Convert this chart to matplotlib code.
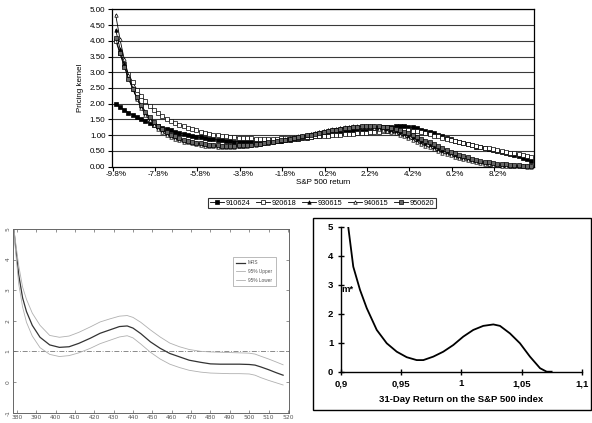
import matplotlib
matplotlib.use("Agg")
import matplotlib.pyplot as plt
from matplotlib.patches import Rectangle
import numpy as np

plt.rcParams['font.family'] = ['Liberation Sans', 'DejaVu Sans']

# ---------------- top panel data ----------------
returns = [-9.8, -9.6, -9.4, -9.2, -9.0, -8.8, -8.6, -8.4, -8.2, -8.0,
           -7.8, -7.6, -7.4, -7.2, -7.0, -6.8, -6.6, -6.4, -6.2, -6.0,
           -5.8, -5.6, -5.4, -5.2, -5.0, -4.8, -4.6, -4.4, -4.2, -4.0,
           -3.8, -3.6, -3.4, -3.2, -3.0, -2.8, -2.6, -2.4, -2.2, -2.0,
           -1.8, -1.6, -1.4, -1.2, -1.0, -0.8, -0.6, -0.4, -0.2, 0.0,
           0.2, 0.4, 0.6, 0.8, 1.0, 1.2, 1.4, 1.6, 1.8, 2.0,
           2.2, 2.4, 2.6, 2.8, 3.0, 3.2, 3.4, 3.6, 3.8, 4.0,
           4.2, 4.4, 4.6, 4.8, 5.0, 5.2, 5.4, 5.6, 5.8, 6.0,
           6.2, 6.4, 6.6, 6.8, 7.0, 7.2, 7.4, 7.6, 7.8, 8.0,
           8.2, 8.4, 8.6, 8.8, 9.0, 9.2, 9.4, 9.6, 9.8]

k_910624 = [2.00, 1.90, 1.81, 1.72, 1.64, 1.57, 1.50, 1.44, 1.38, 1.33,
            1.28, 1.23, 1.19, 1.15, 1.11, 1.07, 1.04, 1.01, 0.98, 0.95,
            0.93, 0.91, 0.89, 0.87, 0.85, 0.84, 0.82, 0.81, 0.80, 0.80,
            0.79, 0.79, 0.79, 0.79, 0.79, 0.80, 0.80, 0.81, 0.82, 0.83,
            0.84, 0.86, 0.87, 0.89, 0.90, 0.92, 0.94, 0.96, 0.98, 1.00,
            1.02, 1.04, 1.06, 1.08, 1.10, 1.12, 1.14, 1.16, 1.18, 1.19,
            1.21, 1.22, 1.24, 1.25, 1.26, 1.27, 1.28, 1.28, 1.28, 1.27,
            1.25, 1.22, 1.18, 1.14, 1.10, 1.06, 1.01, 0.96, 0.92, 0.87,
            0.83, 0.79, 0.75, 0.71, 0.68, 0.64, 0.61, 0.58, 0.55, 0.52,
            0.49, 0.46, 0.43, 0.40, 0.37, 0.33, 0.29, 0.24, 0.17]

k_920618 = [4.00, 3.60, 3.25, 2.95, 2.68, 2.45, 2.25, 2.08, 1.93, 1.80,
            1.69, 1.60, 1.52, 1.45, 1.39, 1.33, 1.28, 1.23, 1.19, 1.15,
            1.11, 1.08, 1.05, 1.02, 1.00, 0.98, 0.96, 0.94, 0.93, 0.92,
            0.91, 0.90, 0.90, 0.89, 0.89, 0.89, 0.89, 0.89, 0.89, 0.90,
            0.90, 0.91, 0.91, 0.92, 0.93, 0.94, 0.95, 0.96, 0.97, 0.98,
            0.99, 1.00, 1.01, 1.02, 1.03, 1.04, 1.05, 1.06, 1.07, 1.08,
            1.09, 1.10, 1.11, 1.12, 1.13, 1.14, 1.15, 1.16, 1.16, 1.16,
            1.14, 1.12, 1.09, 1.06, 1.03, 0.99, 0.96, 0.92, 0.89, 0.85,
            0.82, 0.78, 0.75, 0.72, 0.69, 0.66, 0.63, 0.60, 0.58, 0.55,
            0.53, 0.50, 0.48, 0.45, 0.43, 0.40, 0.38, 0.35, 0.32]

k_930615 = [4.35, 3.75, 3.25, 2.83, 2.47, 2.17, 1.92, 1.71, 1.53, 1.38,
            1.26, 1.16, 1.07, 1.00, 0.94, 0.89, 0.85, 0.81, 0.78, 0.75,
            0.73, 0.71, 0.69, 0.68, 0.67, 0.66, 0.66, 0.66, 0.66, 0.66,
            0.67, 0.68, 0.69, 0.71, 0.72, 0.74, 0.76, 0.78, 0.81, 0.83,
            0.86, 0.88, 0.91, 0.94, 0.97, 1.00, 1.03, 1.06, 1.09, 1.12,
            1.15, 1.17, 1.20, 1.22, 1.24, 1.26, 1.28, 1.29, 1.30, 1.30,
            1.30, 1.29, 1.27, 1.25, 1.22, 1.18, 1.14, 1.09, 1.04, 0.99,
            0.93, 0.87, 0.81, 0.75, 0.69, 0.63, 0.57, 0.52, 0.47, 0.42,
            0.37, 0.32, 0.28, 0.24, 0.20, 0.17, 0.14, 0.12, 0.10, 0.08,
            0.06, 0.05, 0.04, 0.03, 0.02, 0.02, 0.01, 0.01, 0.01]

k_940615 = [4.82, 4.05, 3.42, 2.91, 2.50, 2.16, 1.88, 1.65, 1.47, 1.32,
            1.20, 1.10, 1.02, 0.95, 0.89, 0.84, 0.80, 0.77, 0.74, 0.71,
            0.69, 0.67, 0.66, 0.65, 0.64, 0.64, 0.64, 0.64, 0.64, 0.65,
            0.66, 0.67, 0.68, 0.70, 0.72, 0.74, 0.76, 0.79, 0.81, 0.84,
            0.87, 0.90, 0.93, 0.96, 0.99, 1.02, 1.05, 1.08, 1.11, 1.14,
            1.16, 1.19, 1.21, 1.23, 1.25, 1.26, 1.27, 1.27, 1.27, 1.26,
            1.25, 1.23, 1.21, 1.18, 1.14, 1.10, 1.06, 1.01, 0.96, 0.91,
            0.85, 0.79, 0.73, 0.67, 0.61, 0.56, 0.50, 0.45, 0.40, 0.36,
            0.31, 0.27, 0.23, 0.20, 0.17, 0.14, 0.11, 0.09, 0.07, 0.06,
            0.04, 0.03, 0.03, 0.02, 0.01, 0.01, 0.01, 0.00, 0.00]

k_950620 = [4.10, 3.60, 3.17, 2.80, 2.48, 2.20, 1.96, 1.75, 1.57, 1.42,
            1.30, 1.19, 1.10, 1.02, 0.96, 0.90, 0.86, 0.82, 0.79, 0.76,
            0.74, 0.72, 0.70, 0.69, 0.68, 0.67, 0.67, 0.67, 0.67, 0.68,
            0.68, 0.69, 0.70, 0.72, 0.73, 0.75, 0.77, 0.79, 0.81, 0.84,
            0.86, 0.89, 0.91, 0.94, 0.97, 1.00, 1.02, 1.05, 1.08, 1.11,
            1.13, 1.16, 1.18, 1.20, 1.22, 1.24, 1.26, 1.27, 1.28, 1.29,
            1.29, 1.29, 1.28, 1.27, 1.25, 1.22, 1.19, 1.15, 1.11, 1.06,
            1.01, 0.95, 0.89, 0.83, 0.77, 0.71, 0.65, 0.59, 0.54, 0.48,
            0.43, 0.38, 0.34, 0.30, 0.26, 0.22, 0.19, 0.16, 0.14, 0.12,
            0.10, 0.08, 0.07, 0.06, 0.05, 0.04, 0.03, 0.03, 0.02]

top_series_names = ['910624', '920618', '930615', '940615', '950620']
top_xtick_labels = ['-9.8%', '-7.8%', '-5.8%', '-3.8%', '-1.8%',
                    '0.2%', '2.2%', '4.2%', '6.2%', '8.2%']
top_xtick_values = [-9.8, -7.8, -5.8, -3.8, -1.8, 0.2, 2.2, 4.2, 6.2, 8.2]
top_yticks = [0.0, 0.5, 1.0, 1.5, 2.0, 2.5, 3.0, 3.5, 4.0, 4.5, 5.0]

# ---------------- bottom-left panel data ----------------
bl_x = [378.5, 381, 383, 385, 388, 392, 397, 402, 407, 412, 418, 423, 428,
        433, 437, 440, 444, 449, 454, 459, 464, 469, 475, 480, 485, 490,
        495, 500, 503, 506, 510, 514, 517.5]
bl_mrs = [4.95, 3.50, 2.75, 2.30, 1.85, 1.46, 1.21, 1.13, 1.15, 1.26, 1.43,
          1.59, 1.70, 1.81, 1.83, 1.76, 1.58, 1.31, 1.10, 0.93, 0.82, 0.71,
          0.64, 0.59, 0.58, 0.58, 0.58, 0.57, 0.55, 0.49, 0.40, 0.30, 0.22]
bl_upper = [4.99, 3.80, 3.10, 2.70, 2.25, 1.85, 1.52, 1.46, 1.50, 1.62, 1.80,
            1.96, 2.06, 2.15, 2.17, 2.11, 1.95, 1.70, 1.47, 1.27, 1.15, 1.06,
            1.00, 0.98, 0.97, 0.96, 0.95, 0.94, 0.91, 0.84, 0.75, 0.65, 0.56]
bl_lower = [4.85, 3.20, 2.45, 1.95, 1.50, 1.12, 0.90, 0.83, 0.86, 0.95, 1.10,
            1.25, 1.36, 1.47, 1.51, 1.44, 1.24, 0.97, 0.75, 0.58, 0.47, 0.38,
            0.32, 0.29, 0.28, 0.27, 0.27, 0.26, 0.22, 0.14, 0.05, -0.03, -0.10]
bl_xticks = [380, 390, 400, 410, 420, 430, 440, 450, 460, 470, 480, 490,
             500, 510, 520]
bl_yticks = [-1, 0, 1, 2, 3, 4, 5]

# ---------------- bottom-right panel data ----------------
br_x = [0.906, 0.9102, 0.9158, 0.9214, 0.9297, 0.938, 0.9463, 0.9546,
        0.9629, 0.9684, 0.9767, 0.985, 0.9933, 1.0016, 1.0099, 1.0182,
        1.0266, 1.0321, 1.0404, 1.0487, 1.057, 1.0654, 1.0709, 1.075]
br_m = [5.00, 3.62, 2.82, 2.19, 1.44, 0.98, 0.69, 0.50, 0.40, 0.40, 0.52,
        0.69, 0.92, 1.21, 1.44, 1.58, 1.63, 1.58, 1.32, 0.98, 0.52, 0.12,
        0.00, 0.00]
br_xticks = [0.9, 0.95, 1.0, 1.05, 1.1]
br_xticklabels = ['0,9', '0,95', '1', '1,05', '1,1']
br_yticks = [0, 1, 2, 3, 4, 5]

W, H = 592, 423
fig = plt.figure(figsize=(W / 100, H / 100), dpi=100)


def px_axes(left, top, right, bottom):
    return fig.add_axes([left / W, 1 - bottom / H, (right - left) / W, (bottom - top) / H])


# ================= TOP PANEL =================
ax = px_axes(111.7, 9.3, 534.3, 166.7)
ax.set_xlim(-9.99, 9.94)
ax.set_ylim(0, 5)
for yv in top_yticks[1:]:
    ax.axhline(yv, color='#3a3a3a', lw=0.8, zorder=1)
styles = [
    dict(marker='s', mfc='black', mec='black'),
    dict(marker='s', mfc='white', mec='black'),
    dict(marker='^', mfc='black', mec='black'),
    dict(marker='^', mfc='white', mec='black'),
    dict(marker='s', mfc='#666666', mec='black'),
]
series = [k_910624, k_920618, k_930615, k_940615, k_950620]
handles = []
for name, vals, st in zip(top_series_names, series, styles):
    h, = ax.plot(returns, vals, color='black', lw=0.6, ms=2.5, mew=0.5,
                 label=name, zorder=3, clip_on=False, **st)
    handles.append(h)
ax.set_yticks(top_yticks)
ax.set_yticklabels(['%.2f' % v for v in top_yticks], fontsize=5.8)
ax.set_xticks([v - 0.15 for v in top_xtick_values])
ax.set_xticklabels([])
ax.set_xticks(top_xtick_values, minor=True)
ax.set_xticklabels(top_xtick_labels, minor=True, fontsize=5.8)
ax.tick_params(axis='x', which='minor', length=0, pad=3)
ax.tick_params(axis='x', which='major', length=3, width=0.8, direction='out')
ax.tick_params(axis='y', length=3, width=0.8, direction='out', pad=1.5)
for s in ax.spines.values():
    s.set_linewidth(0.9)
    s.set_color('black')
ax.set_ylabel('Pricing kernel', fontsize=5.8, labelpad=4)
ax.set_xlabel('S&P 500 return', fontsize=5.8, labelpad=1)
leg = fig.legend(handles=handles, loc='center', bbox_to_anchor=(322 / W, 1 - 203 / H),
                 ncol=5, fontsize=5.3, frameon=True, fancybox=False,
                 handlelength=2.0, handletextpad=0.2, columnspacing=0.7,
                 borderpad=0.25, borderaxespad=0)
leg.get_frame().set_edgecolor('black')
leg.get_frame().set_linewidth(0.8)

# ================= BOTTOM-LEFT PANEL =================
ax2 = px_axes(13.3, 229.0, 289.3, 412.5)
ax2.set_xlim(378.2, 520.7)
ax2.set_ylim(-1, 5)
ax2.axhline(1, color='#777777', lw=0.6, ls=(0, (6, 2, 1, 2)), zorder=1)
l1, = ax2.plot(bl_x, bl_mrs, color='#333333', lw=0.9, label='MRS')
l2, = ax2.plot(bl_x, bl_upper, color='#b0b0b0', lw=0.6, label='95% Upper')
l3, = ax2.plot(bl_x, bl_lower, color='#b0b0b0', lw=0.6, label='95% Lower')
ax2.set_xticks(bl_xticks)
ax2.set_xticklabels([str(v) for v in bl_xticks], fontsize=4.3, color='#555555',
                    family=['DejaVu Sans'])
ax2.set_yticks(bl_yticks)
ax2.set_yticklabels([str(v) for v in bl_yticks], fontsize=4.3, color='#555555',
                    rotation=90, va='center', family=['DejaVu Sans'])
ax2.tick_params(direction='in', length=2, width=0.5, color='#666666',
                top=True, right=True, pad=2)
for s in ax2.spines.values():
    s.set_color('#666666')
    s.set_linewidth(0.7)
leg2 = ax2.legend(handles=[l1, l2, l3], loc='upper left',
                  bbox_to_anchor=((232.5 - 13.3) / 276.0, 1 - (257 - 229) / 183.5),
                  fontsize=3.4, frameon=True, fancybox=False, handlelength=2.0,
                  handletextpad=0.6, borderpad=0.7, labelspacing=0.8,
                  borderaxespad=0)
leg2.get_frame().set_edgecolor('#888888')
leg2.get_frame().set_linewidth(0.5)
for t in leg2.get_texts():
    t.set_color('#555555')

# ================= BOTTOM-RIGHT PANEL =================
fig.patches.append(Rectangle((313.3 / W, 1 - 410 / H), (591 - 313.3) / W, (410 - 218.3) / H,
                             transform=fig.transFigure, fill=False,
                             edgecolor='black', lw=1.0))
ax3 = px_axes(341, 226.7, 581.7, 371.7)
ax3.set_xlim(0.9, 1.1)
ax3.set_ylim(0, 5)
ax3.plot(br_x, br_m, color='black', lw=1.3, zorder=3)
ax3.spines['top'].set_visible(False)
ax3.spines['right'].set_visible(False)
ax3.spines['left'].set_linewidth(1.0)
ax3.spines['bottom'].set_linewidth(1.0)
ax3.patch.set_alpha(0)
ax3.set_xticks(br_xticks)
ax3.set_xticklabels(br_xticklabels, fontsize=6.8, fontweight='bold')
ax3.set_yticks(br_yticks)
ax3.set_yticklabels([str(v) for v in br_yticks], fontsize=6.8, fontweight='bold')
ax3.tick_params(direction='inout', length=5, width=1.0, pad=3)
ax3.set_xlabel('31-Day Return on the S&P 500 index', fontsize=6.8,
               fontweight='bold', labelpad=5)
ax3.text(0.9, 2.85, 'm*', fontsize=6.8, fontweight='bold', ha='left', va='center',
         transform=ax3.transData)

fig.savefig('out.png', dpi=100)
